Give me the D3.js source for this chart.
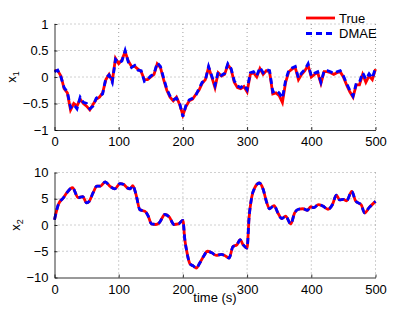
<!DOCTYPE html>
<html>
<head>
<meta charset="utf-8">
<script src="https://cdn.jsdelivr.net/npm/d3@7"></script>
<style>
  body { margin: 0; background: #fff; }
  svg { font-family: "Liberation Sans", Arial, sans-serif; }
</style>
</head>
<body>
<svg id="chart" width="415" height="313"></svg>
<script>
// x1 sampled every 5 s
var t1 = d3.range(0, 501, 5);
var x1True = [0.12,0.12,0.02,-0.22,-0.3,-0.62,-0.5,-0.55,-0.42,-0.5,
  -0.55,-0.62,-0.52,-0.42,-0.38,-0.3,-0.05,0.05,-0.08,0.35,
  0.25,0.32,0.48,0.3,0.2,0.2,0.15,0.1,-0.05,-0.05,
  0.0,0.05,0.25,0.18,-0.05,-0.25,-0.38,-0.45,-0.38,-0.52,
  -0.72,-0.55,-0.45,-0.42,-0.33,-0.25,-0.12,-0.05,0.18,0.0,
  -0.2,0.08,0.02,0.05,0.23,0.15,-0.1,-0.2,-0.22,-0.18,
  -0.28,0.05,0.08,0.0,0.16,0.05,0.12,0.1,-0.32,-0.3,
  -0.35,-0.48,-0.1,0.1,0.15,0.18,-0.05,0.05,0.12,0.22,
  0.0,0.05,0.08,-0.12,0.1,0.1,0.08,0.05,0.08,0.1,
  0.0,-0.15,-0.28,-0.38,-0.15,-0.15,0.05,-0.1,0.02,-0.05,0.15];
var x1Dmae = [0.1,0.13,0.0,-0.2,-0.28,-0.58,-0.52,-0.6,-0.38,-0.48,
  -0.5,-0.6,-0.55,-0.4,-0.36,-0.32,-0.02,0.04,-0.1,0.33,
  0.27,0.3,0.5,0.28,0.18,0.22,0.13,0.12,-0.08,-0.04,
  0.02,0.06,0.27,0.2,-0.02,-0.23,-0.36,-0.43,-0.4,-0.5,
  -0.75,-0.52,-0.43,-0.4,-0.35,-0.22,-0.1,-0.06,0.2,0.02,
  -0.16,0.1,0.03,0.07,0.25,0.16,-0.07,-0.17,-0.2,-0.15,
  -0.24,0.08,0.1,0.02,0.18,0.08,0.14,0.12,-0.28,-0.25,
  -0.3,-0.4,-0.06,0.13,0.17,0.2,-0.02,0.08,0.14,0.25,
  0.02,0.07,0.1,-0.1,0.12,0.12,0.1,0.07,0.1,0.12,
  0.02,-0.12,-0.25,-0.36,-0.12,-0.1,0.08,-0.04,0.06,-0.02,0.17];

// x2 read at irregular times
var t2 = [0,6,14,19,28,37,44,50,54,60,66,71,79,86,94,102,108,113,118,122,
  127,133,141,146,151,158,163,172,179,186,193,200,203,206,211,216,221,226,233,238,
  245,252,260,265,272,278,284,289,294,300,303,307,312,319,325,330,335,342,348,354,
  360,368,374,380,387,394,399,404,411,418,426,433,439,444,450,455,463,469,478,483,490,500];
var x2True = [1.0,3.9,5.2,6.1,7.1,5.2,5.4,4.2,4.5,6.1,7.4,7.4,8.2,7.4,6.9,7.9,7.7,7.1,6.9,7.5,
  5.8,2.9,2.6,1.7,0.2,0.1,0.4,2.0,1.5,0.1,0.2,0.9,-2.8,-5.0,-7.4,-7.8,-8.2,-7.3,-5.8,-5.0,
  -5.3,-5.8,-5.6,-5.8,-6.3,-4.1,-3.8,-2.8,-3.8,-4.4,1.3,5.2,7.1,8.0,6.8,4.5,3.1,3.7,2.3,1.2,
  1.7,0.2,2.3,3.0,3.1,2.8,3.5,3.3,3.9,3.6,3.0,3.9,5.7,4.8,4.9,4.6,6.4,4.6,3.8,2.3,3.3,4.5];
var x2Dmae = [1.0,3.9,5.2,6.1,7.1,5.2,5.4,4.2,4.5,6.1,7.4,7.4,8.2,7.4,6.9,7.9,7.7,7.1,6.9,7.5,
  5.8,2.9,2.6,1.7,0.2,0.1,0.4,2.0,1.5,0.1,0.2,0.9,-2.8,-5.0,-7.4,-7.8,-8.2,-7.3,-5.8,-5.0,
  -5.3,-5.8,-5.6,-5.8,-6.3,-4.1,-3.8,-2.8,-3.8,-4.4,1.3,5.2,7.1,8.0,6.8,4.5,3.1,3.7,2.3,1.2,
  1.7,0.2,2.3,3.0,3.1,2.8,3.5,3.3,3.9,3.6,3.0,3.9,5.7,4.8,4.9,4.6,6.4,4.6,3.8,2.3,3.3,4.5];

var xTicks = [0, 100, 200, 300, 400, 500];
var y1Ticks = [-1, -0.5, 0, 0.5, 1];
var y2Ticks = [-10, -5, 0, 5, 10];
var legendNames = ["True", "DMAE"];

var svg = d3.select("#chart");
var left = 54.5, right = 375.5;

function drawPanel(top, bottom, yDomain, yTicks, tArr, trueArr, dmaeArr, curve, label, sub, labX) {
  var x = d3.scaleLinear().domain([0, 500]).range([left, right]);
  var y = d3.scaleLinear().domain(yDomain).range([bottom, top]);
  var g = svg.append("g");

  // grid
  g.selectAll(".gx").data(xTicks.slice(1)).enter().append("line")
    .attr("x1", function(d) { return x(d); }).attr("x2", function(d) { return x(d); })
    .attr("y1", top).attr("y2", bottom)
    .attr("stroke", "#888").attr("stroke-width", 0.8).attr("stroke-dasharray", "1,3");
  g.selectAll(".gy").data(yTicks.slice(1)).enter().append("line")
    .attr("x1", left).attr("x2", right)
    .attr("y1", function(d) { return y(d); }).attr("y2", function(d) { return y(d); })
    .attr("stroke", "#888").attr("stroke-width", 0.8).attr("stroke-dasharray", "1,3");

  // lines
  var line = d3.line().x(function(d, i) { return x(tArr[i]); }).y(function(d) { return y(d); }).curve(curve);
  g.append("path").attr("d", line(trueArr)).attr("fill", "none")
    .attr("stroke", "#ff0000").attr("stroke-width", 2.8);
  g.append("path").attr("d", line(dmaeArr)).attr("fill", "none")
    .attr("stroke", "#0000ff").attr("stroke-width", 2.8).attr("stroke-dasharray", "6,4");

  // axes (ticks inward, like matlab)
  var xa = d3.axisBottom(x).tickValues(xTicks).tickSizeInner(-3).tickSizeOuter(0).tickPadding(7);
  var ya = d3.axisLeft(y).tickValues(yTicks).tickSizeInner(-3).tickSizeOuter(0).tickPadding(6)
    .tickFormat(function(d) { return String(d).replace("-", "\u2212"); });
  var gx = g.append("g").attr("transform", "translate(0," + bottom + ")").call(xa);
  var gy = g.append("g").attr("transform", "translate(" + left + ",0)").call(ya);
  [gx, gy].forEach(function(a) {
    a.select(".domain").attr("stroke", "#000").attr("stroke-width", 0.8);
    a.selectAll(".tick line").attr("stroke", "#000").attr("stroke-width", 0.8);
    a.selectAll("text").attr("font-size", 13).attr("fill", "#000")
      .attr("font-family", "Liberation Sans, Arial, sans-serif");
  });

  // y label with subscript
  var cy = (top + bottom) / 2;
  var lab = g.append("text").attr("transform", "translate(" + labX + "," + cy + ") rotate(-90)")
    .attr("text-anchor", "middle").attr("font-size", 13);
  lab.append("tspan").text(label);
  lab.append("tspan").attr("font-size", 9).attr("dy", 3).text(sub);
  return x;
}

drawPanel(24, 130, [-1, 1], y1Ticks, t1, x1True, x1Dmae, d3.curveLinear, "x", "1", 16);
drawPanel(172.5, 277.5, [-10, 10], y2Ticks, t2, x2True, x2Dmae, d3.curveMonotoneX, "x", "2", 20);

svg.append("text").attr("x", 215).attr("y", 302).attr("text-anchor", "middle")
  .attr("font-size", 13).text("time (s)");

// legend
var leg = svg.append("g");
leg.selectAll("line").data(legendNames).enter().append("line")
  .attr("x1", 306).attr("x2", 335)
  .attr("y1", function(d, i) { return 18 + i * 15.5; }).attr("y2", function(d, i) { return 18 + i * 15.5; })
  .attr("stroke", function(d, i) { return i ? "#0000ff" : "#ff0000"; })
  .attr("stroke-width", 2.8)
  .attr("stroke-dasharray", function(d, i) { return i ? "6,4" : null; });
leg.selectAll("text").data(legendNames).enter().append("text")
  .attr("x", 339).attr("y", function(d, i) { return 22.5 + i * 15.5; })
  .attr("font-size", 13).text(function(d) { return d; });
</script>
</body>
</html>
